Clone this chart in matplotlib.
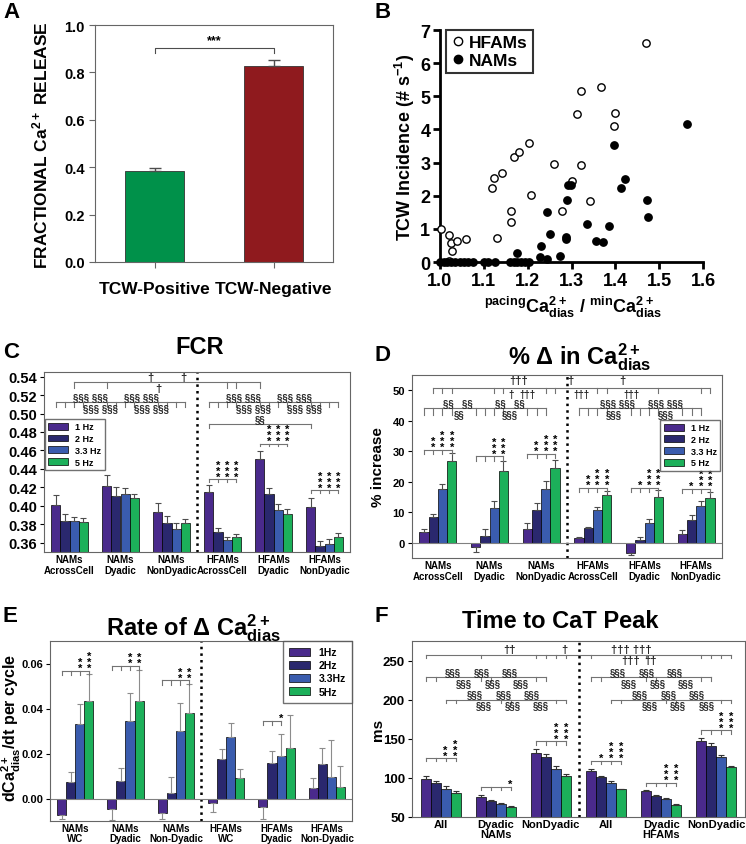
import numpy as np
import matplotlib
matplotlib.use('Agg')
import matplotlib.pyplot as plt
from matplotlib.lines import Line2D

plt.rcParams['font.family'] = ['Liberation Sans', 'DejaVu Sans']
plt.rcParams['font.weight'] = 'bold'
plt.rcParams['axes.labelweight'] = 'bold'
plt.rcParams['mathtext.fontset'] = 'custom'
plt.rcParams['mathtext.bf'] = 'Liberation Sans:bold'
plt.rcParams['mathtext.rm'] = 'Liberation Sans:bold'
plt.rcParams['mathtext.default'] = 'bf'

# ---- data ----
a_labels = ['TCW-Positive', 'TCW-Negative']
a_vals = [0.385, 0.828]
a_err = [0.013, 0.025]

hfam_x = [1.002, 1.020, 1.024, 1.028, 1.038, 1.060, 1.021, 1.131, 1.119, 1.123, 1.142,
          1.161, 1.163, 1.168, 1.180, 1.204, 1.207, 1.260, 1.279, 1.302, 1.313, 1.321,
          1.322, 1.343, 1.367, 1.396, 1.400, 1.471]
hfam_y = [1.00, 0.82, 0.57, 0.32, 0.63, 0.68, 0.03, 0.72, 2.24, 2.54, 2.69,
          1.20, 1.53, 3.17, 3.31, 3.58, 2.01, 2.97, 1.54, 2.44, 4.47, 5.17,
          2.94, 1.84, 5.29, 4.09, 4.51, 6.61]
nam_x = [1.000, 1.008, 1.016, 1.025, 1.035, 1.045, 1.055, 1.065, 1.075, 1.100, 1.110,
         1.125, 1.160, 1.168, 1.176, 1.185, 1.193, 1.202, 1.175, 1.230, 1.228, 1.245,
         1.245, 1.252, 1.273, 1.287, 1.288, 1.290, 1.292, 1.300, 1.336, 1.357, 1.373,
         1.386, 1.396, 1.413, 1.422, 1.473, 1.475, 1.564]
nam_y = [0, 0, 0, 0, 0, 0, 0, 0, 0, 0, 0,
         0, 0, 0, 0, 0, 0, 0, 0.28, 0.48, 0.15, 0.10,
         1.50, 0.84, 0.17, 0.68, 0.75, 1.87, 2.31, 2.31, 1.14, 0.63, 0.60,
         1.09, 3.54, 2.23, 2.50, 1.87, 1.37, 4.15]

freqs = ['1 Hz', '2 Hz', '3.3 Hz', '5 Hz']
freqs_e = ['1Hz', '2Hz', '3.3Hz', '5Hz']
cd_groups = ['NAMs\nAcrossCell', 'NAMs\nDyadic', 'NAMs\nNonDyadic',
             'HFAMs\nAcrossCell', 'HFAMs\nDyadic', 'HFAMs\nNonDyadic']
e_groups = ['NAMs\nWC', 'NAMs\nDyadic', 'NAMs\nNon-Dyadic',
            'HFAMs\nWC', 'HFAMs\nDyadic', 'HFAMs\nNon-Dyadic']
f_groups = ['All', 'Dyadic\nNAMs', 'NonDyadic', 'All', 'Dyadic\nHFAMs', 'NonDyadic']

fcr = [[0.401, 0.384, 0.384, 0.383],
       [0.422, 0.411, 0.413, 0.408],
       [0.393, 0.381, 0.375, 0.381],
       [0.415, 0.372, 0.363, 0.366],
       [0.451, 0.413, 0.396, 0.391],
       [0.399, 0.356, 0.359, 0.366]]
fcr_err = [[0.011, 0.007, 0.004, 0.004],
           [0.011, 0.009, 0.006, 0.005],
           [0.010, 0.008, 0.006, 0.005],
           [0.008, 0.004, 0.003, 0.004],
           [0.008, 0.006, 0.006, 0.006],
           [0.010, 0.006, 0.005, 0.005]]

dias = [[3.6, 8.5, 17.6, 26.8],
        [-1.5, 2.3, 11.5, 23.6],
        [4.6, 10.9, 17.6, 24.4],
        [1.7, 4.8, 10.7, 15.5],
        [-3.2, 0.8, 6.5, 14.9],
        [2.9, 7.3, 12.1, 14.7]]
dias_err = [[0.9, 0.9, 1.6, 2.5],
            [1.6, 2.1, 2.2, 3.1],
            [1.9, 2.1, 2.8, 2.8],
            [0.3, 0.3, 0.9, 1.4],
            [0.9, 1.1, 1.3, 2.3],
            [1.2, 1.9, 1.5, 2.1]]

rate = [[-0.0072, 0.0075, 0.0330, 0.0434],
        [-0.0048, 0.0080, 0.0346, 0.0433],
        [-0.0064, 0.0025, 0.0301, 0.0381],
        [-0.0021, 0.0176, 0.0275, 0.0090],
        [-0.0039, 0.0157, 0.0187, 0.0224],
        [0.0046, 0.0155, 0.0097, 0.0052]]
rate_err = [[0.0021, 0.0045, 0.0091, 0.0121],
            [0.0049, 0.0057, 0.0123, 0.0137],
            [0.0028, 0.0072, 0.0124, 0.0130],
            [0.0037, 0.0045, 0.0061, 0.0040],
            [0.0051, 0.0055, 0.0100, 0.0149],
            [0.0044, 0.0069, 0.0161, 0.0093]]

peak = [[99.2, 93.6, 86.4, 80.5],
        [75.0, 69.9, 66.1, 63.1],
        [132.2, 126.3, 111.9, 103.0],
        [108.5, 100.8, 94.1, 85.2],
        [82.6, 76.7, 72.5, 65.3],
        [147.0, 141.1, 127.1, 113.6]]
peak_err = [[3.3, 3.0, 2.6, 2.1],
            [3.0, 2.1, 1.3, 0.9],
            [4.7, 4.2, 2.9, 2.1],
            [2.9, 2.2, 1.7, 0.8],
            [2.1, 1.3, 1.2, 0.8],
            [3.8, 3.8, 2.6, 2.1]]

colors = ['#4a2a8c', '#2a286e', '#3a5cae', '#1cb05a']
W = 0.18
GRAY = '0.45'


def rect(l, t, r, b):
    return [l / 746, 1 - b / 845, (r - l) / 746, (b - t) / 845]


def bx(g, k):
    return g + (k - 1.5) * W


def grouped_bars(ax, vals, errs, ecolor):
    vals = np.array(vals)
    errs = np.array(errs)
    bars = []
    for k in range(4):
        x = np.arange(6) + (k - 1.5) * W
        v = vals[:, k]
        e = errs[:, k]
        lo = np.where(v < 0, e, 0)
        hi = np.where(v >= 0, e, 0)
        b = ax.bar(x, v, W, color=colors[k], edgecolor='k', lw=0.5, yerr=[lo, hi],
                   error_kw=dict(ecolor=ecolor, elinewidth=0.8, capsize=2, capthick=0.8))
        bars.append(b)
    ax.set_xlim(-0.5, 5.5)
    ax.axvline(2.5, color='k', ls=':', lw=1.8)
    ax.tick_params(axis='x', length=0, pad=1.5)
    for s in ax.spines.values():
        s.set_color('0.4')
        s.set_linewidth(0.8)
    return bars


def bracket(ax, xs, y, h):
    ax.plot([min(xs), max(xs)], [y, y], color=GRAY, lw=0.8)
    for x in xs:
        ax.plot([x, x], [y, y - h], color=GRAY, lw=0.8)


def stars(ax, x, y, n, fs=8):
    if n:
        ax.annotate('\n'.join(['*'] * n), (x, y), xytext=(0, -1.5), textcoords='offset points',
                    ha='center', va='bottom', fontsize=fs, linespacing=0.5)


def label(ax, x, y, s, va='bottom', fs=7):
    ax.text(x, y, s, ha='center', va=va, fontsize=fs, color='0.15')


def bar_brackets(ax, g, y, h, counts, last=3):
    xs = [bx(g, k) for k in range(last + 1)]
    bracket(ax, xs, y, h)
    for k, n in enumerate(counts):
        stars(ax, bx(g, k), y, n)


fig = plt.figure(figsize=(7.46, 8.45), dpi=100)

# ---- A ----
ax = fig.add_axes(rect(95, 26, 333, 263))
ax.bar([0, 1], a_vals, 0.5, color=['#00914a', '#8f1a1e'], edgecolor='0.2', lw=0.6,
       yerr=[[0, 0], a_err], error_kw=dict(ecolor='0.3', elinewidth=1, capsize=4))
ax.set_xlim(-0.5, 1.5)
ax.set_ylim(0, 1.0)
ax.set_yticks(np.arange(0, 1.01, 0.2))
ax.set_yticklabels(['%.1f' % v for v in np.arange(0, 1.01, 0.2)], fontsize=10.5)
ax.set_xticks([0, 1])
ax.set_xticklabels(a_labels, fontsize=12.5)
ax.tick_params(direction='out', length=4, color='0.4')
ax.tick_params(axis='x', pad=10)
for s in ax.spines.values():
    s.set_color('0.4')
ax.plot([0, 0, 1, 1], [0.88, 0.905, 0.905, 0.88], color='0.3', lw=0.8)
ax.text(0.5, 0.91, '***', ha='center', va='bottom', fontsize=9)
fig.text(40 / 746, 1 - 145 / 845, 'FRACTIONAL Ca$^{2+}$ RELEASE', rotation=90,
         ha='center', va='center', fontsize=12.5)

# ---- B ----
ax = fig.add_axes(rect(440, 31, 703, 263))
ax.scatter(hfam_x, hfam_y, s=28, facecolor='white', edgecolor='k', lw=1, clip_on=False, zorder=3)
ax.scatter(nam_x, nam_y, s=28, facecolor='k', edgecolor='k', lw=1, clip_on=False, zorder=3)
ax.set_xlim(1.0, 1.6)
ax.set_ylim(0, 7)
ax.set_xticks(np.arange(1.0, 1.61, 0.1))
ax.set_xticklabels(['%.1f' % v for v in np.arange(1.0, 1.61, 0.1)], fontsize=13)
ax.set_yticks(range(8))
ax.set_yticklabels([str(i) for i in range(8)], fontsize=13)
ax.spines['top'].set_visible(False)
ax.spines['right'].set_visible(False)
ax.spines['left'].set_linewidth(2)
ax.spines['bottom'].set_linewidth(2)
ax.tick_params(direction='out', length=5, width=2, pad=2)
hb = [Line2D([], [], ls='', marker='o', mfc='white', mec='k', ms=6),
      Line2D([], [], ls='', marker='o', mfc='k', mec='k', ms=6)]
leg = ax.legend(hb, ['HFAMs', 'NAMs'], loc='upper left', bbox_to_anchor=(0.023, 1.0),
                borderaxespad=0, fontsize=12.5, handlelength=0.8, handletextpad=0.2,
                fancybox=False, borderpad=0.3, labelspacing=0.15)
leg.get_frame().set_edgecolor('k')
leg.get_frame().set_linewidth(1.5)
fig.text(405 / 746, 1 - 147 / 845, 'TCW Incidence (# s$^{-1}$)', rotation=90,
         ha='center', va='center', fontsize=13)
fig.text(573 / 746, 1 - 307 / 845, r'${}^{pacing}$Ca$^{2+}_{dias}$ / ${}^{min}$Ca$^{2+}_{dias}$',
         ha='center', va='center', fontsize=13)

# ---- C ----
ax = fig.add_axes(rect(44, 373, 350, 553))
bars = grouped_bars(ax, fcr, fcr_err, '0.3')
ax.set_ylim(0.35, 0.545)
yt = np.arange(0.36, 0.541, 0.02)
ax.set_yticks(yt)
ax.set_yticklabels(['%.2f' % v for v in yt], fontsize=10.5)
ax.tick_params(axis='y', direction='out', length=3, pad=2)
ax.set_xticks(range(6))
ax.set_xticklabels(cd_groups, fontsize=7, linespacing=1.1)
leg = ax.legend(bars, freqs, loc='upper left', bbox_to_anchor=(0.002, 0.74), borderaxespad=0,
                fontsize=6.5, handlelength=2.2, handleheight=0.8, fancybox=False, labelspacing=0.3)
leg.get_frame().set_edgecolor('0.3')
bracket(ax, [bx(0, 2), bx(1, 0), bx(3, 2), bx(3, 3), bx(4, 0)], 0.534, 0.006)
label(ax, 1.58, 0.5345, '\u2020', fs=8)
label(ax, 2.24, 0.5345, '\u2020', fs=8)
label(ax, 1.75, 0.533, '\u2020', va='top', fs=8)
for g0, xa, xb in [(0, 0.42, 1.42), (3, 3.42, 4.42)]:
    bracket(ax, [bx(g, k) for g in range(g0, g0 + 3) for k in range(4)], 0.5126, 0.005)
    label(ax, xa, 0.5128, '\u00a7\u00a7\u00a7 \u00a7\u00a7\u00a7')
    label(ax, xb, 0.5128, '\u00a7\u00a7\u00a7 \u00a7\u00a7\u00a7')
    label(ax, xa + 0.18, 0.5115, '\u00a7\u00a7\u00a7 \u00a7\u00a7\u00a7', va='top')
    label(ax, xb + 0.18, 0.5115, '\u00a7\u00a7\u00a7 \u00a7\u00a7\u00a7', va='top')
bracket(ax, [bx(3, 0), bx(5, 0)], 0.489, 0.005)
label(ax, 3.74, 0.4885, '\u00a7\u00a7', va='bottom')
bar_brackets(ax, 3, 0.4287, 0.003, [0, 3, 3, 3])
bar_brackets(ax, 4, 0.4674, 0.003, [0, 3, 3, 3])
bar_brackets(ax, 5, 0.4168, 0.003, [0, 3, 3, 3])
fig.text(200 / 746, 1 - 348 / 845, 'FCR', ha='center', va='center', fontsize=17)

# ---- D ----
ax = fig.add_axes(rect(412, 376, 722, 559))
bars = grouped_bars(ax, dias, dias_err, '0.3')
ax.axhline(0, color='0.5', lw=0.8)
ax.set_ylim(-5, 55)
ax.set_yticks(range(0, 51, 10))
ax.set_yticklabels([str(v) for v in range(0, 51, 10)], fontsize=8)
ax.tick_params(axis='y', direction='out', length=3, pad=2)
ax.set_xticks(range(6))
ax.set_xticklabels(cd_groups, fontsize=7, linespacing=1.1)
leg = ax.legend(bars, freqs, loc='upper right', bbox_to_anchor=(0.995, 0.756), borderaxespad=0,
                fontsize=6.5, handlelength=2.2, handleheight=0.8, fancybox=False, labelspacing=0.3)
leg.get_frame().set_edgecolor('0.3')
bracket(ax, [bx(0, 1), bx(0, 2), bx(0, 3), bx(1, 2), bx(1, 3), bx(2, 2), bx(2, 3),
             bx(3, 2), bx(3, 3), bx(4, 3), bx(5, 2), bx(5, 3)], 50.9, 1.8)
label(ax, 1.57, 51.6, '\u2020\u2020\u2020', fs=8)
label(ax, 2.57, 51.6, '\u2020', fs=8)
label(ax, 3.57, 51.6, '\u2020', fs=8)
label(ax, 1.41, 50.4, '\u2020', va='top', fs=7)
label(ax, 1.74, 50.4, '\u2020\u2020\u2020', va='top', fs=7)
label(ax, 2.77, 50.4, '\u2020\u2020\u2020', va='top', fs=7)
label(ax, 3.74, 50.4, '\u2020\u2020\u2020', va='top', fs=7)
bracket(ax, [bx(g, k) for g in range(3) for k in range(4)][:11], 44.2, 2.2)
label(ax, 0.39, 44.3, '\u00a7\u00a7   \u00a7\u00a7')
label(ax, 1.40, 44.3, '\u00a7\u00a7   \u00a7\u00a7')
label(ax, 0.41, 43.7, '\u00a7\u00a7', va='top')
label(ax, 1.40, 43.7, '\u00a7\u00a7\u00a7', va='top')
bracket(ax, [bx(g, k) for g in range(3, 6) for k in range(4)][:11], 44.2, 2.2)
label(ax, 3.48, 44.3, '\u00a7\u00a7\u00a7 \u00a7\u00a7\u00a7')
label(ax, 4.41, 44.3, '\u00a7\u00a7\u00a7 \u00a7\u00a7\u00a7')
label(ax, 3.40, 43.7, '\u00a7\u00a7\u00a7', va='top')
label(ax, 4.42, 43.7, '\u00a7\u00a7\u00a7', va='top')
bar_brackets(ax, 0, 30.5, 1.5, [0, 2, 3, 3])
bar_brackets(ax, 1, 28.3, 1.5, [0, 0, 3, 3])
bar_brackets(ax, 2, 29.2, 1.5, [0, 2, 3, 3])
bar_brackets(ax, 3, 18.0, 1.5, [0, 2, 3, 3])
bar_brackets(ax, 4, 18.0, 1.5, [0, 1, 3, 3])
bar_brackets(ax, 5, 17.7, 1.5, [0, 1, 3, 3])
fig.text(378 / 746, 1 - 467 / 845, '% increase', rotation=90, ha='center', va='center', fontsize=11)
fig.text(580 / 746, 1 - 357 / 845, '% \u0394 in Ca$^{2+}_{dias}$', ha='center', va='center', fontsize=17)

# ---- E ----
ax = fig.add_axes(rect(50, 642, 352, 822))
bars = grouped_bars(ax, rate, rate_err, '0.55')
ax.axhline(0, color='0.5', lw=0.8)
ax.set_ylim(-0.01, 0.07)
ax.set_yticks([0, 0.02, 0.04, 0.06])
ax.set_yticklabels(['0.00', '0.02', '0.04', '0.06'], fontsize=8)
ax.tick_params(axis='y', direction='out', length=3, pad=1.5)
ax.set_xticks(range(6))
ax.set_xticklabels(e_groups, fontsize=7, linespacing=1.0)
leg = ax.legend(bars, freqs_e, loc='upper right', bbox_to_anchor=(1.0, 1.0), borderaxespad=0,
                fontsize=7.5, handlelength=2.0, handleheight=0.8, fancybox=False, labelspacing=0.3,
                borderpad=0.6)
leg.get_frame().set_edgecolor('0.3')
bar_brackets(ax, 0, 0.0567, 0.002, [0, 0, 2, 3])
bar_brackets(ax, 1, 0.0590, 0.002, [0, 0, 2, 2])
bar_brackets(ax, 2, 0.0525, 0.002, [0, 0, 2, 2])
bar_brackets(ax, 4, 0.0346, 0.002, [0, 0, 1], last=2)
fig.text(11 / 746, 1 - 728 / 845, 'dCa$^{2+}_{dias}$/dt per cycle', rotation=90,
         ha='center', va='center', fontsize=11.5)
fig.text(193 / 746, 1 - 628 / 845, 'Rate of \u0394 Ca$^{2+}_{dias}$', ha='center', va='center', fontsize=17)

# ---- F ----
ax = fig.add_axes(rect(412, 642, 745, 818))
bars = grouped_bars(ax, peak, peak_err, '0.2')
ax.set_xlim(-0.52, 5.52)
ax.set_ylim(50, 275)
ax.set_yticks(range(50, 251, 50))
ax.set_yticklabels([str(v) for v in range(50, 251, 50)], fontsize=9.5)
ax.tick_params(axis='y', direction='out', length=3, pad=2)
ax.set_xticks(range(6))
ax.set_xticklabels(f_groups, fontsize=8, linespacing=1.0)
bracket(ax, [bx(0, 0), bx(1, 0), bx(2, 0), bx(2, 1), bx(2, 2), bx(2, 3), bx(3, 0), bx(4, 0),
             bx(5, 0), bx(5, 1), bx(5, 2), bx(5, 3)], 257.7, 5)
label(ax, 1.25, 258.5, '\u2020\u2020', fs=8)
label(ax, 2.25, 258.5, '\u2020', fs=8)
label(ax, 3.45, 258.5, '\u2020\u2020\u2020 \u2020\u2020\u2020', fs=8)
label(ax, 3.44, 257, '\u2020\u2020\u2020', va='top', fs=8)
label(ax, 3.81, 257, '\u2020\u2020', va='top', fs=8)
sec = '\u00a7\u00a7\u00a7'
for g0 in [0, 3]:
    bracket(ax, [bx(g0, 0), bx(g0, 1), bx(g0 + 1, 0), bx(g0 + 1, 1), bx(g0 + 2, 0), bx(g0 + 2, 1)], 229, 5)
    bracket(ax, [bx(g0, 2), bx(g0, 3), bx(g0 + 1, 2), bx(g0 + 1, 3), bx(g0 + 2, 2), bx(g0 + 2, 3)], 200.2, 5)
    for xc in [0.22, 0.74, 1.25]:
        label(ax, g0 + xc, 229.5, sec)
        label(ax, g0 + xc + 0.2, 228, sec, va='top')
        label(ax, g0 + xc + 0.4, 200.7, sec)
        label(ax, g0 + xc + 0.57, 199.2, sec, va='top')
bar_brackets(ax, 0, 125.0, 4, [0, 0, 2, 3])
bar_brackets(ax, 1, 88.1, 4, [0, 0, 0, 1])
bar_brackets(ax, 2, 146.6, 4, [0, 0, 3, 3])
bar_brackets(ax, 3, 122.0, 4, [0, 1, 3, 3])
bar_brackets(ax, 4, 93.6, 4, [0, 0, 3, 3])
bar_brackets(ax, 5, 160.6, 4, [0, 0, 3, 3])
fig.text(378 / 746, 1 - 730 / 845, 'ms', rotation=90, ha='center', va='center', fontsize=11)
fig.text(560 / 746, 1 - 622 / 845, 'Time to CaT Peak', ha='center', va='center', fontsize=17)

# panel letters
for s, x, y in [('A', 3, 12), ('B', 375, 12), ('C', 3, 352), ('D', 375, 356),
                ('E', 3, 617), ('F', 375, 617)]:
    fig.text(x / 746, 1 - y / 845, s, ha='left', va='center', fontsize=16)

fig.savefig('out.png', dpi=100)
